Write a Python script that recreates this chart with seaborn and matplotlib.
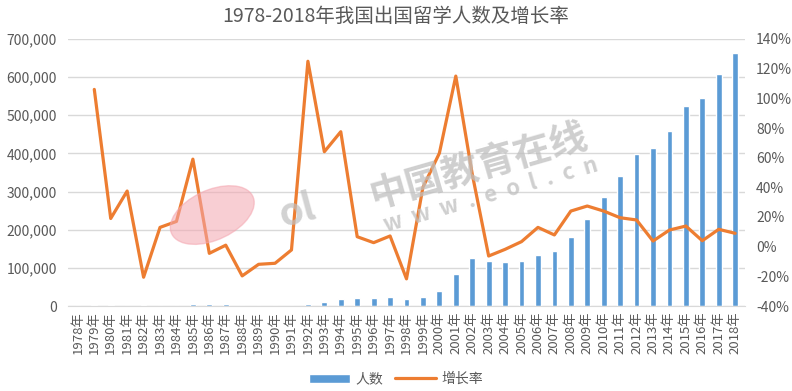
import numpy as np
import pandas as pd
import matplotlib
matplotlib.use("Agg")
import matplotlib.pyplot as plt
import seaborn as sns
from matplotlib.ticker import FuncFormatter
from matplotlib.patches import Ellipse

# 数据：年份、人数、增长率
years = [f"{y}年" for y in range(1978, 2019)]
students = [0, 1777, 2124, 0, 2326, 0, 0, 4888, 4676, 4703,
            0, 0, 0, 0, 6540, 10742, 19071, 20381, 20905, 22410,
            17622, 23749, 38989, 83973, 125179, 117307, 114682, 118515, 134000, 144000,
            179800, 229300, 284700, 339700, 399600, 413900, 459800, 523700, 544500, 608400,
            662100]
growth = [np.nan, 1.06, 0.19, 0.375, -0.206, 0.13, 0.17, 0.59, -0.045, 0.01,
          -0.197, -0.119, -0.112, -0.022, 1.25, 0.64, 0.775, 0.067, 0.027, 0.072,
          -0.217, 0.40, 0.63, 1.15, 0.49, -0.063, -0.018, 0.034, 0.13, 0.079,
          0.24, 0.274, 0.24, 0.195, 0.18, 0.038, 0.112, 0.139, 0.04, 0.117,
          0.09]

sns.set_style("white")
plt.rcParams['font.family'] = ['Noto Sans CJK SC', 'DejaVu Sans']

bar_color = '#5B9BD5'
line_color = '#ED7D31'
text_color = '#595959'
grid_color = '#D9D9D9'

df = pd.DataFrame({'year': years, 'students': students, 'growth': growth})
df['pos'] = np.arange(len(df))

fig, ax = plt.subplots(figsize=(7.92, 3.91), dpi=100)
fig.subplots_adjust(left=68 / 792, right=745 / 792, top=1 - 39 / 391, bottom=1 - 306 / 391)

sns.barplot(data=df, x='year', y='students', color=bar_color, width=0.35,
            saturation=1, ax=ax, label='人数')
ax.set_ylim(0, 700000)
ax.set_yticks(np.arange(0, 700001, 100000))
ax.yaxis.set_major_formatter(FuncFormatter(lambda v, p: f"{int(v):,}"))
ax.grid(axis='y', color=grid_color, linewidth=1)
ax.set_axisbelow(True)
ax.set_xlim(-0.6, len(df) - 0.4)
ax.set_xlabel('')
ax.set_ylabel('')
ax.tick_params(axis='y', length=0, labelsize=10, colors=text_color, pad=8)
ax.tick_params(axis='x', which='major', length=0, labelsize=9.5, colors=text_color, rotation=90, pad=4)
ax.set_xticks(np.arange(-0.5, len(df), 1), minor=True)
ax.tick_params(axis='x', which='minor', length=4, color=grid_color)
for s in ['top', 'right', 'left']:
    ax.spines[s].set_visible(False)
ax.spines['bottom'].set_color(grid_color)

ax2 = ax.twinx()
sns.lineplot(data=df, x='pos', y='growth', color=line_color, linewidth=2.3,
             ax=ax2, label='增长率', legend=False)
ax2.set_ylim(-0.4, 1.4)
ax2.set_yticks(np.arange(-0.4, 1.41, 0.2))
ax2.yaxis.set_major_formatter(FuncFormatter(lambda v, p: f"{round(v * 100):.0f}%"))
ax2.tick_params(axis='y', length=0, labelsize=10, colors=text_color, pad=8)
ax2.set_ylabel('')
ax2.set_xlabel('')
for s in ['top', 'right', 'left', 'bottom']:
    ax2.spines[s].set_visible(False)

# 水印
fig.patches.append(Ellipse((0.268, 0.45), 0.09, 0.16, angle=-25, transform=fig.transFigure,
                           color='#F4A6B0', alpha=0.55, zorder=0))
fig.text(0.375, 0.46, 'ol', fontsize=28, color='#BFBFBF', alpha=0.7,
         rotation=15, ha='center', va='center', fontweight='bold')
fig.text(0.605, 0.575, '中国教育在线', fontsize=27, color='#BFBFBF', alpha=0.75,
         rotation=16, ha='center', va='center', fontweight='bold')
fig.text(0.62, 0.50, 'w  w  w  .  e  o  l  .  c  n', fontsize=16, color='#BFBFBF', alpha=0.75,
         rotation=16, ha='center', va='center', fontweight='bold')

fig.suptitle('1978-2018年我国出国留学人数及增长率', fontsize=14, color=text_color, y=0.985)

h1, l1 = ax.get_legend_handles_labels()
h2, l2 = ax2.get_legend_handles_labels()
if ax.get_legend() is not None:
    ax.get_legend().remove()
fig.legend(h1 + h2, l1 + l2, loc='center', bbox_to_anchor=(0.5, 0.03), ncol=2,
           frameon=False, fontsize=10, labelcolor=text_color, handlelength=3,
           columnspacing=0.8, handletextpad=0.4)

fig.savefig('out.png', dpi=100)
